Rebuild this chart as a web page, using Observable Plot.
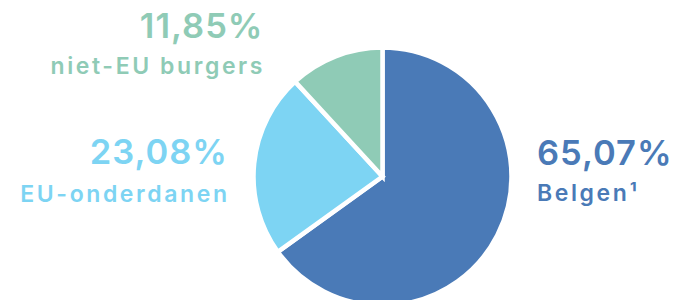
<!DOCTYPE html>
<html><head><meta charset="utf-8">
<script src="https://cdn.jsdelivr.net/npm/d3@7"></script>
<script src="https://cdn.jsdelivr.net/npm/@observablehq/plot@0.6"></script>
<style>body{margin:0;background:#fff;overflow:hidden}</style>
</head><body><div id="chart"></div>
<script>
const categories = ["Belgen", "EU-onderdanen", "niet-EU burgers"];
const shares = [65.07, 23.08, 11.85];
const valueLabels = ["65,07%", "23,08%", "11,85%"];
const nameLabels = ["Belgen\u00B9", "EU-onderdanen", "niet-EU burgers"];
const colors = ["#4a7ab7", "#7dd4f3", "#8fcbb6"];

// layout (pixels)
const cx = 382.5, cy = 176.5, R = 129;
const labelDx = [154, -156, -120.5];
const valueDy = [-12.5, -13.5, -139.5];
const nameDy = [23.5, 24.5, -103.5];
const anchors = ["start", "end", "end"];

const data = categories.map((c, i) => ({category: c, share: shares[i], value: valueLabels[i], name: nameLabels[i],
  x: cx + labelDx[i], yv: cy + valueDy[i], yn: cy + nameDy[i], anchor: anchors[i]}));
const arcs = d3.pie().sort(null).value(d => d.share)(data);

function pieMark(index, scales) {
  const g = d3.create("svg:g").attr("transform", `translate(${scales.x(cx)},${scales.y(cy)})`);
  const arc = d3.arc().innerRadius(0).outerRadius(R);
  g.selectAll("path").data(arcs).join("path")
    .attr("d", arc)
    .attr("fill", d => scales.color(d.data.category))
    .attr("stroke", "#fff").attr("stroke-width", 4.5).attr("stroke-linejoin", "miter");
  return g.node();
}

const textMarks = (anchor) => [
  Plot.text(data.filter(d => d.anchor === anchor), {x: "x", y: "yv", text: "value", fill: "category",
    textAnchor: anchor, lineAnchor: "bottom", fontSize: 34.5, fontWeight: 600,
    dx: anchor === "end" ? 1 : 0, style: "letter-spacing:1px"}),
  Plot.text(data.filter(d => d.anchor === anchor), {x: "x", y: "yn", text: "name", fill: "category",
    textAnchor: anchor, lineAnchor: "bottom", fontSize: 23, fontWeight: 600,
    dx: anchor === "end" ? 2.6 : 0})
];

const chart = Plot.plot({
  width: 674, height: 300, margin: 0,
  style: {fontFamily: "Inter, sans-serif", background: "#fff", overflow: "hidden"},
  x: {type: "identity", axis: null}, y: {type: "identity", axis: null},
  color: {domain: categories, range: colors},
  marks: [pieMark, ...textMarks("start"), ...textMarks("end")]
});
d3.select(chart).selectAll("g[aria-label=text]").each(function(d, i) {
  // values: odd groups are names
});
document.getElementById("chart").append(chart);
// apply letter spacing to text groups (values 1px, names 2.6px)
const groups = chart.querySelectorAll('g[aria-label="text"]');
groups.forEach((g, i) => g.setAttribute("letter-spacing", i % 2 === 0 ? "1px" : "2.6px"));
</script>
</body></html>
